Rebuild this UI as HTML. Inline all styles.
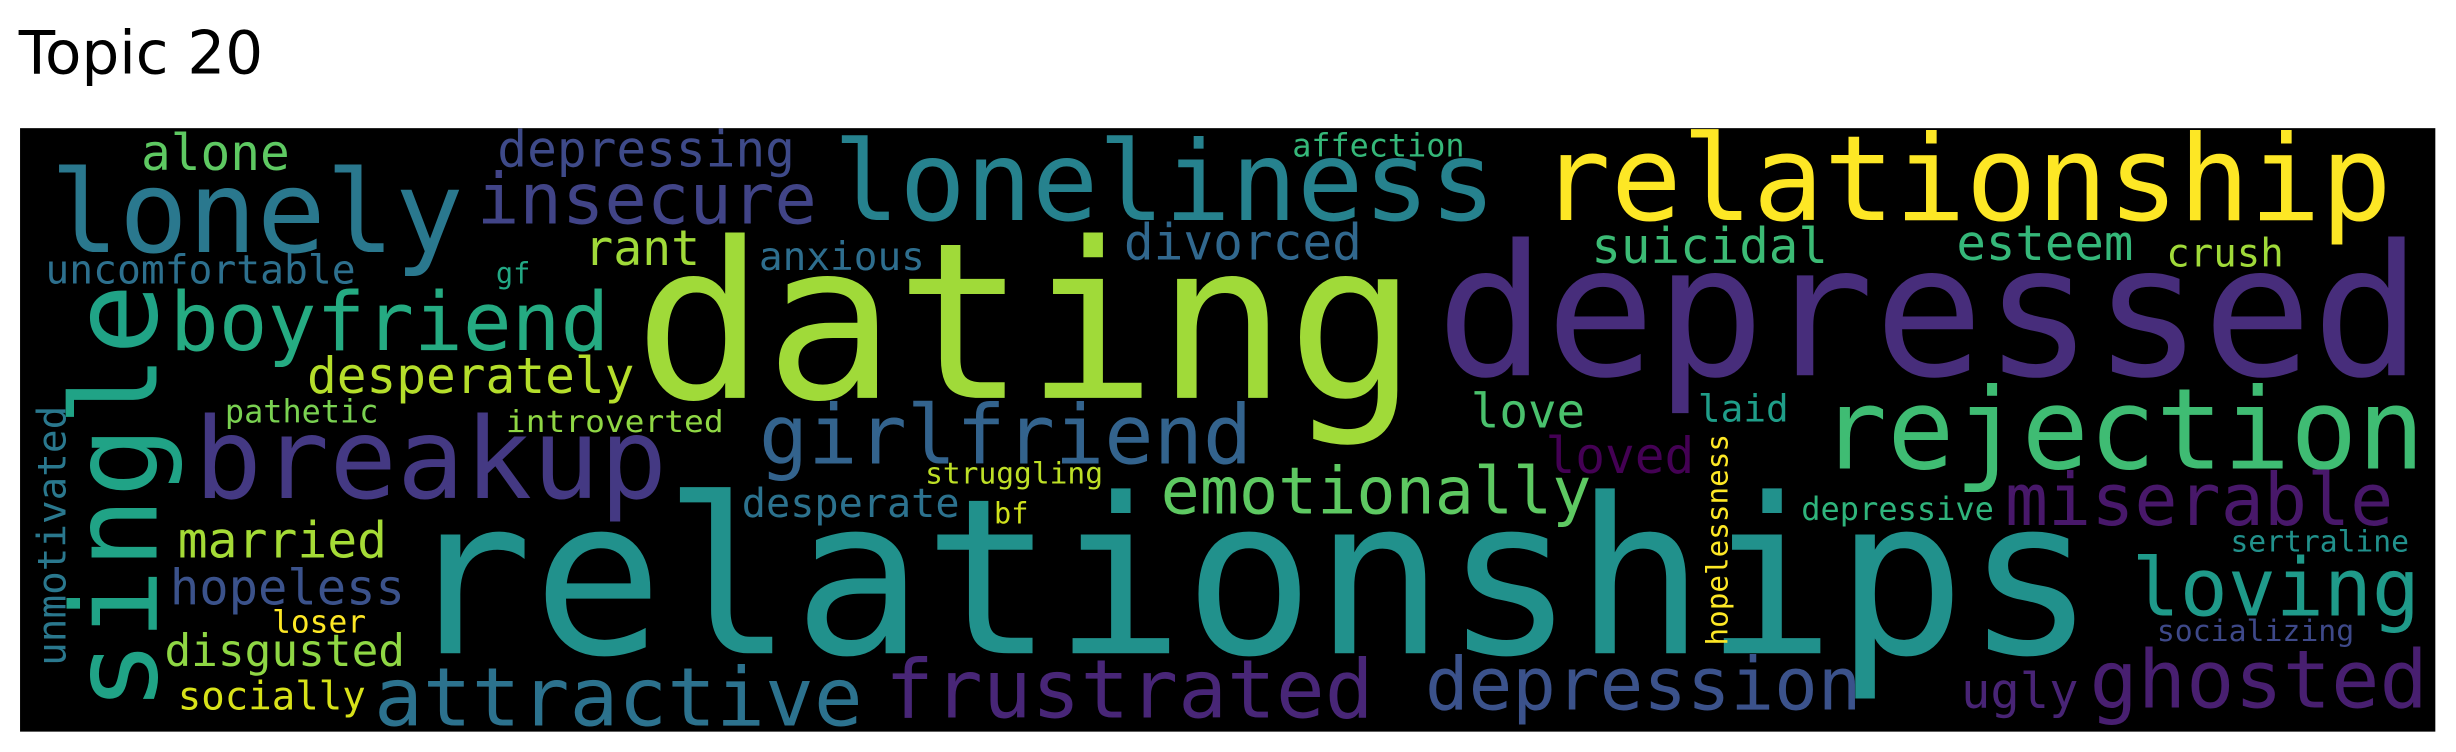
<!DOCTYPE html>
<html><head><meta charset="utf-8"><style>
html,body{margin:0;padding:0;background:#fff;width:2456px;height:752px;overflow:hidden}
svg{display:block}
.t{font-family:"DejaVu Sans","Liberation Sans",sans-serif}
.w{font-family:"DejaVu Sans Mono","Liberation Mono",monospace}
</style></head><body>
<svg width="2456" height="752" viewBox="0 0 1568 480" preserveAspectRatio="none">
<text class="t" x="12" y="47" font-size="38" fill="#000">Topic 20</text>
<rect x="12.8" y="81.8" width="1542" height="385.2" fill="#000"/>
<g class="w">
<text x="405" y="254" font-size="139" fill="#a0da39" textLength="500" lengthAdjust="spacingAndGlyphs">dating</text>
<text x="917" y="239.5" font-size="116.5" fill="#472d7b" textLength="629" lengthAdjust="spacingAndGlyphs">depressed</text>
<text x="257" y="417" font-size="138.6" fill="#21918c" textLength="1081" lengthAdjust="spacingAndGlyphs">relationships</text>
<text x="983" y="140.5" font-size="75.6" fill="#fde725" textLength="544" lengthAdjust="spacingAndGlyphs">relationship</text>
<text x="32" y="160.7" font-size="73" fill="#2a788e" textLength="264" lengthAdjust="spacingAndGlyphs">lonely</text>
<text x="532" y="140.5" font-size="70.5" fill="#26828e" textLength="423" lengthAdjust="spacingAndGlyphs">loneliness</text>
<text x="304.5" y="142.6" font-size="45" fill="#414487" textLength="217" lengthAdjust="spacingAndGlyphs">insecure</text>
<text x="317.5" y="106.4" font-size="31.7" fill="#3e4a89" textLength="190" lengthAdjust="spacingAndGlyphs">depressing</text>
<text x="90" y="108.5" font-size="31.7" fill="#5ec962" textLength="95" lengthAdjust="spacingAndGlyphs">alone</text>
<text x="825" y="100" font-size="20.4" fill="#35b779" textLength="110" lengthAdjust="spacingAndGlyphs">affection</text>
<text x="373" y="169" font-size="31" fill="#a0da39" textLength="74" lengthAdjust="spacingAndGlyphs">rant</text>
<text x="484.5" y="172.4" font-size="25" fill="#2e6e8e" textLength="106" lengthAdjust="spacingAndGlyphs">anxious</text>
<text x="717.5" y="165.5" font-size="31.7" fill="#31688e" textLength="152" lengthAdjust="spacingAndGlyphs">divorced</text>
<text x="1016" y="168" font-size="31.4" fill="#3cbb75" textLength="151" lengthAdjust="spacingAndGlyphs">suicidal</text>
<text x="1249" y="166" font-size="31.4" fill="#35b779" textLength="113" lengthAdjust="spacingAndGlyphs">esteem</text>
<text x="1383" y="170" font-size="25" fill="#a0da39" textLength="75" lengthAdjust="spacingAndGlyphs">crush</text>
<text x="29" y="181" font-size="25.4" fill="#2d708e" textLength="198" lengthAdjust="spacingAndGlyphs">uncomfortable</text>
<text x="316.6" y="181" font-size="18.6" fill="#22a884" textLength="22" lengthAdjust="spacingAndGlyphs">gf</text>
<text x="108.5" y="223.5" font-size="51.8" fill="#25ab82" textLength="280.5" lengthAdjust="spacingAndGlyphs">boyfriend</text>
<text transform="translate(100,454) rotate(-90)" font-size="76" fill="#20a386" textLength="273" lengthAdjust="spacingAndGlyphs">single</text>
<text x="196" y="251" font-size="31.7" fill="#b5de2b" textLength="209" lengthAdjust="spacingAndGlyphs">desperately</text>
<text x="484.5" y="295.8" font-size="52.5" fill="#33638d" textLength="315" lengthAdjust="spacingAndGlyphs">girlfriend</text>
<text x="124" y="318" font-size="72" fill="#443983" textLength="302" lengthAdjust="spacingAndGlyphs">breakup</text>
<text transform="translate(41.7,425) rotate(-90)" font-size="25" fill="#2a788e" textLength="166" lengthAdjust="spacingAndGlyphs">unmotivated</text>
<text x="143.6" y="269.6" font-size="20.5" fill="#7ad151" textLength="98" lengthAdjust="spacingAndGlyphs">pathetic</text>
<text x="323" y="275.8" font-size="19.2" fill="#8fd744" textLength="139" lengthAdjust="spacingAndGlyphs">introverted</text>
<text x="939" y="273" font-size="30.4" fill="#4ac16d" textLength="73" lengthAdjust="spacingAndGlyphs">love</text>
<text x="1084" y="269" font-size="24" fill="#1f9e89" textLength="58" lengthAdjust="spacingAndGlyphs">laid</text>
<text x="986.7" y="302" font-size="31.7" fill="#440154" textLength="95" lengthAdjust="spacingAndGlyphs">loved</text>
<text x="1162" y="299" font-size="71.5" fill="#3fbc73" textLength="386" lengthAdjust="spacingAndGlyphs">rejection</text>
<text x="741" y="327.8" font-size="41.6" fill="#5ec962" textLength="275" lengthAdjust="spacingAndGlyphs">emotionally</text>
<text x="590.6" y="308.6" font-size="18.9" fill="#bddf26" textLength="113.6" lengthAdjust="spacingAndGlyphs">struggling</text>
<text x="473.6" y="330" font-size="25.8" fill="#2c728e" textLength="139" lengthAdjust="spacingAndGlyphs">desperate</text>
<text x="634.6" y="334" font-size="18.6" fill="#d0e11c" textLength="22" lengthAdjust="spacingAndGlyphs">bf</text>
<text transform="translate(1103,412) rotate(-90)" font-size="18.8" fill="#fde725" textLength="135" lengthAdjust="spacingAndGlyphs">hopelessness</text>
<text x="1150" y="332" font-size="20.5" fill="#2fb47c" textLength="123" lengthAdjust="spacingAndGlyphs">depressive</text>
<text x="1280" y="335" font-size="46" fill="#48186a" textLength="248" lengthAdjust="spacingAndGlyphs">miserable</text>
<text x="113.5" y="356" font-size="31.8" fill="#a5db36" textLength="133.6" lengthAdjust="spacingAndGlyphs">married</text>
<text x="108.5" y="386" font-size="31.3" fill="#3b528b" textLength="150" lengthAdjust="spacingAndGlyphs">hopeless</text>
<text x="1361" y="393" font-size="51" fill="#1f9a8a" textLength="184" lengthAdjust="spacingAndGlyphs">loving</text>
<text x="1424" y="352" font-size="19" fill="#21918c" textLength="114" lengthAdjust="spacingAndGlyphs">sertraline</text>
<text x="173.7" y="403.6" font-size="20" fill="#fde725" textLength="60" lengthAdjust="spacingAndGlyphs">loser</text>
<text x="105" y="425" font-size="28.4" fill="#8fd744" textLength="153.6" lengthAdjust="spacingAndGlyphs">disgusted</text>
<text x="1377" y="409" font-size="19" fill="#3e4989" textLength="126" lengthAdjust="spacingAndGlyphs">socializing</text>
<text x="113.5" y="452.8" font-size="25" fill="#d8e219" textLength="120" lengthAdjust="spacingAndGlyphs">socially</text>
<text x="238.8" y="463" font-size="52" fill="#2c728e" textLength="312" lengthAdjust="spacingAndGlyphs">attractive</text>
<text x="565" y="458" font-size="52" fill="#482677" textLength="312" lengthAdjust="spacingAndGlyphs">frustrated</text>
<text x="909.8" y="453" font-size="46.4" fill="#3b528b" textLength="278.6" lengthAdjust="spacingAndGlyphs">depression</text>
<text x="1252" y="452" font-size="31" fill="#482475" textLength="75" lengthAdjust="spacingAndGlyphs">ugly</text>
<text x="1334" y="451.5" font-size="51" fill="#481f70" textLength="216" lengthAdjust="spacingAndGlyphs">ghosted</text>
</g>
</svg>
</body></html>
